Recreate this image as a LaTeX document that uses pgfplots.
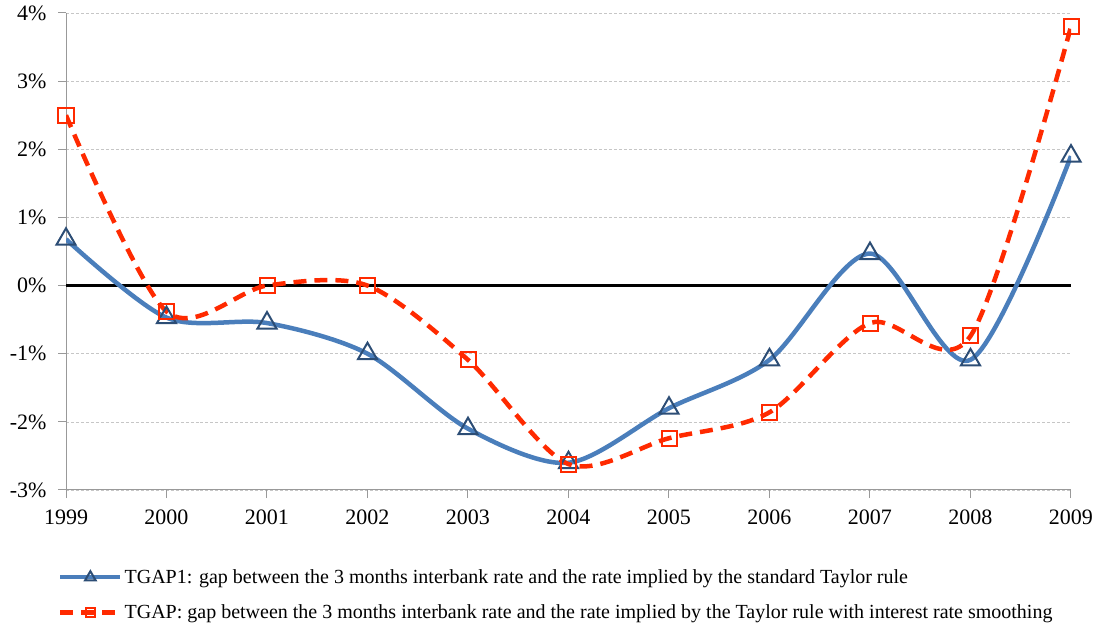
\documentclass[border=0pt]{standalone}
\usepackage{pgfplots}
\pgfplotsset{compat=1.18}
\usepackage{fontspec}
\setmainfont{Liberation Serif}
\definecolor{tblue}{HTML}{4A7EBB}
\definecolor{tdblue}{HTML}{2C4D75}
\definecolor{tred}{HTML}{FF2A00}
\begin{document}
\begin{tikzpicture}
\path[use as bounding box] (0,0) rectangle (1098bp,633bp);
\begin{axis}[
  at={(66bp,143bp)}, anchor=south west,
  scale only axis, width=1005bp, height=477bp,
  xmin=1999, xmax=2009, ymin=-3, ymax=4,
  xtick={1999,...,2009}, ytick={-3,...,4},
  axis x line*=bottom, axis y line*=left,
  axis line style={draw=gray!80, line width=1bp},
  tick align=outside, major tick length=8bp,
  tick style={draw=gray!80, line width=1bp},
  ymajorgrids, grid style={densely dashed, draw=gray!45, line width=0.6bp},
  /pgf/number format/assume math mode=true,
  xticklabel style={/pgf/number format/1000 sep=, font=\fontsize{22bp}{22bp}\selectfont, yshift=-8bp},
  yticklabel style={font=\fontsize{22bp}{22bp}\selectfont, xshift=-8bp},
  yticklabel={\pgfmathprintnumber{\tick}\%},
  legend style={at={(-0.011,-0.158)}, anchor=north west, draw=none, fill=none,
    font=\fontsize{20bp}{20bp}\selectfont, row sep=16bp,
    /tikz/every even column/.append style={column sep=0bp}},
  legend cell align=left,
  legend image code/.code={\draw[mark repeat=2,mark phase=2, every mark/.append style={scale=0.55}] plot coordinates {(0bp,0bp) (30bp,0bp) (60bp,0bp)};},
]
\addplot[black, line width=3.5bp, forget plot] coordinates {(1999,0) (2009,0)};
\addplot[tblue, line width=4.5bp, smooth, tension=0.5, mark=triangle, mark size=11bp,
  mark options={solid, draw=tdblue, fill=white, line width=2bp}] coordinates {
(1999,0.68) (2000,-0.47) (2001,-0.55) (2002,-1.0) (2003,-2.1) (2004,-2.6)
(2005,-1.8) (2006,-1.09) (2007,0.47) (2008,-1.09) (2009,1.9)};
\addlegendentry{TGAP1: gap between the 3 months interbank rate and the rate implied by the standard Taylor rule}
\addplot[tred, line width=4.5bp, dash pattern=on 13bp off 8bp, smooth, tension=0.5, mark=square, mark size=7.5bp,
  mark options={solid, draw=tred, fill=white, line width=2bp}] coordinates {
(1999,2.5) (2000,-0.38) (2001,0.0) (2002,0.0) (2003,-1.09) (2004,-2.62)
(2005,-2.24) (2006,-1.86) (2007,-0.55) (2008,-0.74) (2009,3.8)};
\addlegendentry{TGAP: gap between the 3 months interbank rate and the rate implied by the Taylor rule with interest rate smoothing}
\end{axis}
\end{tikzpicture}
\end{document}
